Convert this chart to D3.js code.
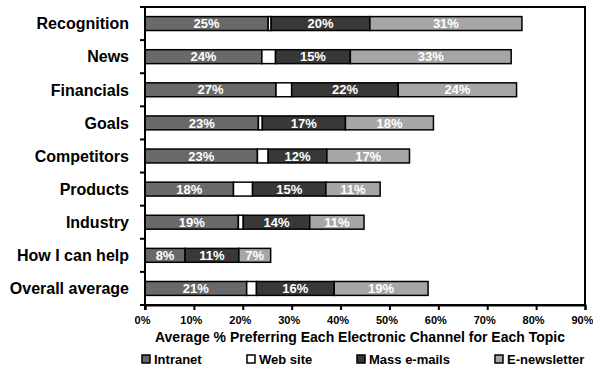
<!DOCTYPE html>
<html>
<head>
<meta charset="utf-8">
<script src="https://cdn.jsdelivr.net/npm/d3@7"></script>
<style>
  html, body { margin: 0; padding: 0; background: #fff; }
  svg { display: block; font-family: Arial, "Liberation Sans", sans-serif; }
</style>
</head>
<body>
<svg id="chart" width="593" height="370"></svg>
<script>
const categories = ["Recognition", "News", "Financials", "Goals", "Competitors", "Products", "Industry", "How I can help", "Overall average"];
const seriesNames = ["Intranet", "Web site", "Mass e-mails", "E-newsletter"];
const intranet    = [25.2, 23.9, 26.8, 23.2, 23.0, 18.1, 19.1, 8.2, 20.8];
const webSite     = [0.6, 2.8, 3.2, 0.8, 2.2, 3.9, 1.0, 0.0, 2.0];
const massEmails  = [20.2, 15.3, 21.8, 17.0, 12.0, 15.0, 13.6, 11.0, 15.9];
const eNewsletter = [31.1, 32.9, 24.2, 18.0, 16.9, 11.1, 11.1, 6.5, 19.2];
const xTicks = [0, 10, 20, 30, 40, 50, 60, 70, 80, 90];
const colors = ["#696969", "#ffffff", "#383838", "#a6a6a6"];
const showLabel = [true, false, true, true];

const svg = d3.select("#chart");
const mLeft = 145, mRight = 585, mTop = 7, mBottom = 305;

const x = d3.scaleLinear().domain([0, 90]).range([mLeft, mRight]);
const y = d3.scaleBand().domain(categories).range([mTop, mBottom]).paddingInner(0.58).paddingOuter(0.29);

const table = categories.map((c, i) => ({ cat: c, "Intranet": intranet[i], "Web site": webSite[i], "Mass e-mails": massEmails[i], "E-newsletter": eNewsletter[i] }));
const stacked = d3.stack().keys(seriesNames)(table);

// frame
svg.append("rect").attr("x", mLeft).attr("y", mTop).attr("width", mRight - mLeft).attr("height", mBottom - mTop)
  .attr("fill", "none").attr("stroke", "#000").attr("stroke-width", 2);

// bars
stacked.forEach((layer, si) => {
  const g = svg.append("g");
  g.selectAll("rect").data(layer.filter(d => d[1] - d[0] > 0)).join("rect")
    .attr("x", d => x(d[0]))
    .attr("y", d => y(d.data.cat))
    .attr("width", d => x(d[1]) - x(d[0]))
    .attr("height", y.bandwidth())
    .attr("fill", colors[si])
    .attr("stroke", "#000")
    .attr("stroke-width", 1.5);
  if (showLabel[si]) {
    g.selectAll("text").data(layer).join("text")
      .attr("x", d => (x(d[0]) + x(d[1])) / 2)
      .attr("y", d => y(d.data.cat) + y.bandwidth() / 2)
      .attr("dy", "0.36em")
      .attr("text-anchor", "middle")
      .attr("fill", "#fff")
      .attr("font-weight", "bold")
      .attr("font-size", 13)
      .text(d => Math.round(d[1] - d[0]) + "%");
  }
});

// y axis (category boundary ticks)
const yAxis = svg.append("g").attr("transform", `translate(${mLeft},0)`);
const boundaries = d3.range(categories.length + 1).map(i => mTop + i * (mBottom - mTop) / categories.length);
yAxis.selectAll("line.tk").data(boundaries).join("line")
  .attr("x1", -5).attr("x2", 0).attr("y1", d => d).attr("y2", d => d)
  .attr("stroke", "#000").attr("stroke-width", 2);
yAxis.append("line").attr("x1", 0).attr("x2", 0).attr("y1", mTop).attr("y2", mBottom + 5)
  .attr("stroke", "#000").attr("stroke-width", 2);
yAxis.selectAll("text").data(categories).join("text")
  .attr("x", -16)
  .attr("y", d => y(d) + y.bandwidth() / 2)
  .attr("dy", "0.36em")
  .attr("text-anchor", "end")
  .attr("font-weight", "bold")
  .attr("font-size", 16)
  .text(d => d);

// x axis
const xAxis = svg.append("g").attr("transform", `translate(0,${mBottom})`)
  .call(d3.axisBottom(x).tickValues(xTicks).tickFormat(d => d + "%").tickSize(5).tickPadding(6));
xAxis.select(".domain").attr("stroke-width", 2);
xAxis.selectAll(".tick line").attr("stroke-width", 2);
xAxis.selectAll(".tick text").attr("font-size", 11).attr("font-weight", "bold")
  .attr("font-family", "Arial, 'Liberation Sans', sans-serif").attr("dx", -3).attr("fill", "#000");

// title
svg.append("text").attr("x", 360).attr("y", 342).attr("text-anchor", "middle")
  .attr("font-weight", "bold").attr("font-size", 14)
  .text("Average % Preferring Each Electronic Channel for Each Topic");

// legend
const legendX = [142, 247, 357, 495];
const lg = svg.append("g");
seriesNames.forEach((s, i) => {
  lg.append("rect").attr("x", legendX[i]).attr("y", 355).attr("width", 8).attr("height", 8)
    .attr("fill", colors[i]).attr("stroke", "#000").attr("stroke-width", 1.5);
  lg.append("text").attr("x", legendX[i] + 12).attr("y", 363.5)
    .attr("font-weight", "bold").attr("font-size", 13).text(s);
});
</script>
</body>
</html>
